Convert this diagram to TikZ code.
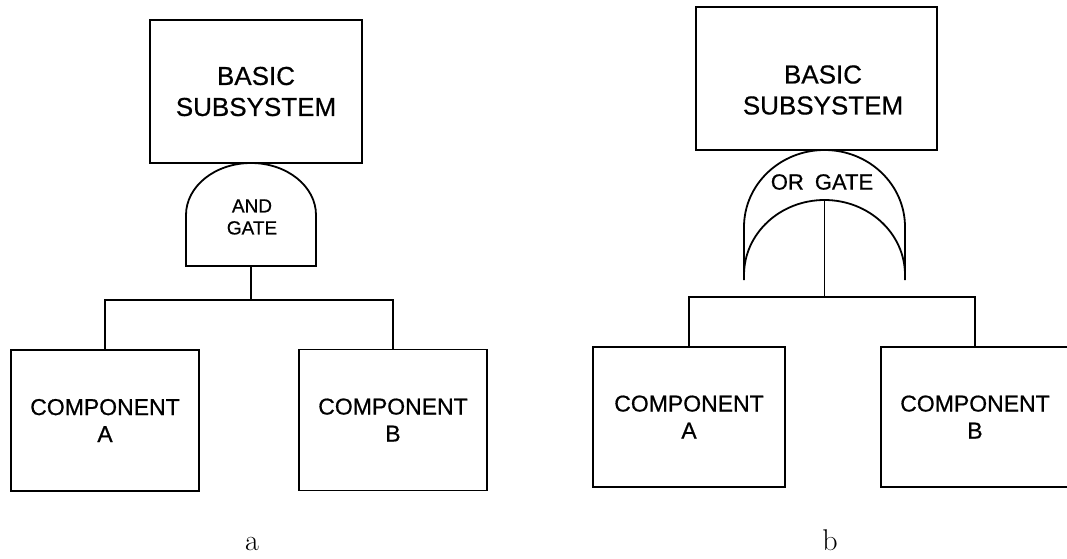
\documentclass[tikz,border=0pt]{standalone}
\usepackage{fontspec}
\newfontfamily\plotfont{Liberation Sans}[FakeBold=0.6]
\begin{document}
\begin{tikzpicture}[x=1pt,y=-1pt,line width=1.8pt,
  box/.style={draw,rectangle,inner sep=0pt,align=center},
  bigtext/.style={font=\plotfont\fontsize{26}{31}\selectfont},
  comptext/.style={font=\plotfont\fontsize{23}{27}\selectfont},
  gatetext/.style={font=\plotfont\fontsize{19}{22}\selectfont,align=center,inner sep=0pt},
  ortext/.style={font=\plotfont\fontsize{22}{26}\selectfont,inner sep=0pt},
  sublabel/.style={font=\fontsize{30}{34}\selectfont,anchor=base,inner sep=0pt}]
\useasboundingbox (0,0) rectangle (1067,558);
\clip (0,0) rectangle (1067,558);

% ---------------- panel a ----------------
\node[box,bigtext,minimum width=212pt,minimum height=143pt] (topL) at (256,91.5) {BASIC\\SUBSYSTEM};
\draw (186,266) -- (186,215) arc[start angle=180,end angle=0,x radius=65pt,y radius=52pt] -- (316,266) -- cycle;
\coordinate (andB) at (251,266);
\node[gatetext] (andtxt) at (252,217) {AND\\GATE};
\node[box,comptext,minimum width=188pt,minimum height=141pt] (compA) at (105,420.5) {COMPONENT\\A};
\node[box,comptext,minimum width=188pt,minimum height=141pt] (compB) at (393,420) {COMPONENT\\B};
\coordinate (jL) at (251,300);
\draw (andB) -- (jL);
\draw (compA.north) |- (jL) -| (compB.north);
\node[sublabel] (la) at (252,550) {a};

% ---------------- panel b ----------------
\node[box,minimum width=241pt,minimum height=143pt] (topR) at (816.5,78.5) {};
\node[bigtext,align=center,inner sep=0pt] (topRtxt) at (823,90) {BASIC\\SUBSYSTEM};
\draw (744,280) -- (744,227) arc[start angle=180,end angle=0,x radius=80.5pt,y radius=77pt] -- (905,280);
\draw (744,275) arc[start angle=180,end angle=0,x radius=80.5pt,y radius=75pt];
\coordinate (orIn) at (824.5,200);
\node[ortext] (ortxt) at (822,182) {OR\hspace{0.5em}GATE};
\node[box,comptext,minimum width=192pt,minimum height=140pt] (compRA) at (689,417) {COMPONENT\\A};
\node[box,comptext,minimum width=188pt,minimum height=140pt] (compRB) at (975,417) {COMPONENT\\B};
\coordinate (jR) at (824.5,297);
\draw (orIn) -- (jR);
\draw (compRA.north) |- (jR) -| (compRB.north);
\node[sublabel] (lb) at (830,550) {b};
\end{tikzpicture}
\end{document}
